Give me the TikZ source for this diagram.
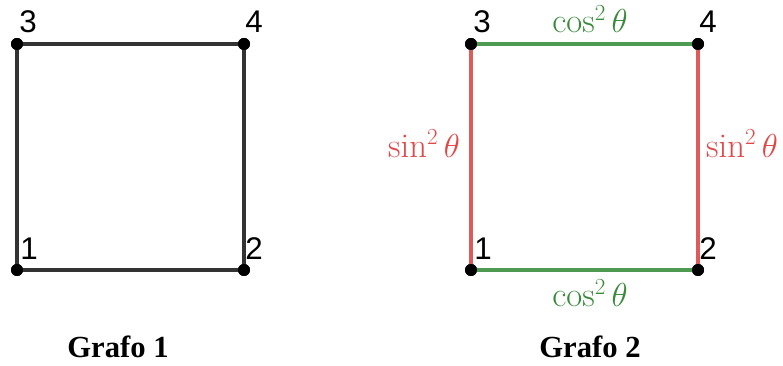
\documentclass[tikz,border=0pt]{standalone}
\usepackage{fontspec}
\newfontfamily\vfont{Liberation Sans}
\newfontfamily\tfont{Liberation Serif}
\definecolor{edgegray}{HTML}{333333}
\definecolor{edgegreen}{HTML}{4E9A50}
\definecolor{labgreen}{HTML}{3A8A3C}
\definecolor{edgered}{HTML}{E05A5A}
\definecolor{labred}{HTML}{E04848}
\tikzset{
  vertex/.style={circle, fill=black, inner sep=0pt, minimum size=9pt},
  vlabel/.style={anchor=south west, inner sep=0pt, font=\vfont\fontsize{23.5}{26}\selectfont},
  wlabel/.style={inner sep=0pt, font=\fontsize{26}{30}\selectfont},
  title/.style={anchor=base, inner sep=0pt, font=\tfont\bfseries\fontsize{23}{26}\selectfont},
  edge/.style={line width=3.5pt}
}
\begin{document}
\begin{tikzpicture}[x=0.75pt, y=-0.75pt]
  \useasboundingbox (0,0) rectangle (783,366);

  % Grafo 1
  \node[vertex] (a1) at (17,270) {};
  \node[vertex] (a2) at (244,270) {};
  \node[vertex] (a3) at (17,44) {};
  \node[vertex] (a4) at (244,44) {};
  \draw[edge, edgegray] (a1.center) -- (a2.center) -- (a4.center) -- (a3.center) -- cycle;
  \node[vertex] at (a1) {};
  \node[vertex] at (a2) {};
  \node[vertex] at (a3) {};
  \node[vertex] at (a4) {};
  \node[vlabel] (la1) at (20,260) {1};
  \node[vlabel] (la2) at (245,260) {2};
  \node[vlabel] (la3) at (19,33) {3};
  \node[vlabel] (la4) at (245,33) {4};
  \node[title] (t1) at (118,358) {Grafo 1};

  % Grafo 2
  \node[vertex] (b1) at (471,270) {};
  \node[vertex] (b2) at (698,270) {};
  \node[vertex] (b3) at (471,44) {};
  \node[vertex] (b4) at (698,44) {};
  \draw[edge, edgegreen] (b1.center) -- (b2.center);
  \draw[edge, edgegreen] (b3.center) -- (b4.center);
  \draw[edge, edgered] (b1.center) -- (b3.center);
  \draw[edge, edgered] (b2.center) -- (b4.center);
  \node[vertex] at (b1) {};
  \node[vertex] at (b2) {};
  \node[vertex] at (b3) {};
  \node[vertex] at (b4) {};
  \node[vlabel] (lb1) at (474,260) {1};
  \node[vlabel] (lb2) at (699,260) {2};
  \node[vlabel] (lb3) at (473,33) {3};
  \node[vlabel] (lb4) at (699,33) {4};

  % gewichten
  \node[wlabel, anchor=base, text=labgreen] (w34) at (590,33) {$\cos^2\theta$};
  \node[wlabel, anchor=base, text=labgreen] (w12) at (590,307) {$\cos^2\theta$};
  \node[wlabel, anchor=base, text=labred] (w13) at (424,158) {$\sin^2\theta$};
  \node[wlabel, anchor=base, text=labred] (w24) at (742,158) {$\sin^2\theta$};
  \node[title] (t2) at (590,358) {Grafo 2};
\end{tikzpicture}
\end{document}
